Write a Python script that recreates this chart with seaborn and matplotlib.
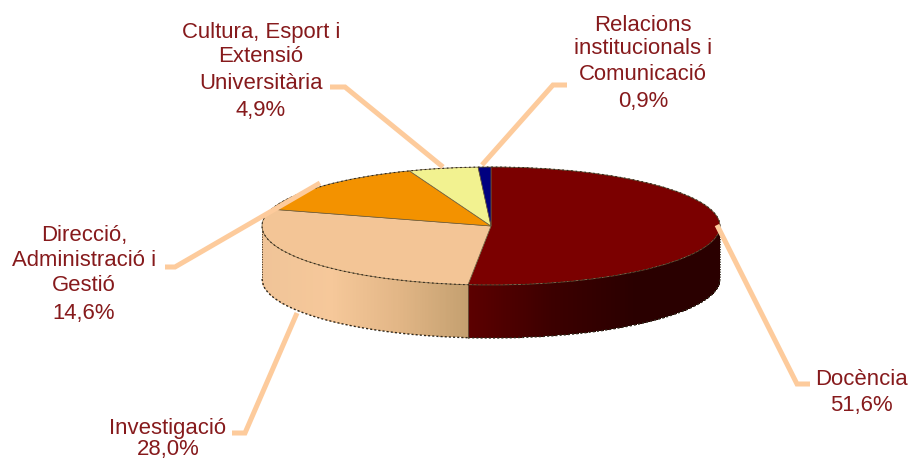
import numpy as np
import matplotlib
matplotlib.use('Agg')
import matplotlib.pyplot as plt
import seaborn as sns

# Data
categories = ['Docència', 'Investigació', 'Direcció,\nAdministració i\nGestió',
              'Cultura, Esport i\nExtensió\nUniversitària',
              'Relacions\ninstitucionals i\nComunicació']
values = [51.6, 28.0, 14.6, 4.9, 0.9]
pct_labels = ['51,6%', '28,0%', '14,6%', '4,9%', '0,9%']
colors = ['#7b0000', '#f3c596', '#f39200', '#f2f290', '#000080']

W, H = 913, 461
cx, cy, rx, ry, depth = 491, 226, 229, 59, 53

sns.set_theme(style='white')
plt.rcParams['font.family'] = ['Liberation Sans', 'DejaVu Sans']

fig = plt.figure(figsize=(W / 100, H / 100), dpi=100)

# Pie axes: unit circle squashed into an ellipse
ax = fig.add_axes([0, 0, 1, 1])
ax.pie(values, colors=colors, startangle=90, counterclock=False, radius=1,
       wedgeprops={'edgecolor': '#6a5a3a', 'linewidth': 0.5})
ax.set_aspect('auto')
ax.set_xlim(-cx / rx, (W - cx) / rx)
ax.set_ylim((cy - H) / ry, cy / ry)
for w in ax.patches:
    w.set_zorder(3)

# Side wall, shaded left to right, split where Docència ends
d = depth / ry
split = np.sin(np.deg2rad(values[0] * 3.6))
x_in = np.linspace(-1, split, 150)
x_do = np.linspace(split, 1, 250)
cmap_in = sns.blend_palette(['#f0c498', '#f6c89a', '#e2b686', '#c4a070'], as_cmap=True)
cmap_do = sns.blend_palette(['#5c0000', '#3c0000', '#2a0000', '#2a0000'], as_cmap=True)
for xs, cm in [(x_in, cmap_in), (x_do, cmap_do)]:
    top = -np.sqrt(np.clip(1 - xs ** 2, 0, 1))
    X = np.vstack([xs, xs])
    Y = np.vstack([top, top - d])
    C = np.linspace(0, 1, len(xs) - 1)[None, :]
    ax.pcolormesh(X, Y, C, cmap=cm, shading='flat', zorder=1, rasterized=True)
    ax.plot(xs, top - d, color='#30281c', lw=1.0, ls=(0, (1.5, 1.5)), zorder=2)

# outer dotted edge like the reference
t = np.linspace(0, 2 * np.pi, 400)
ax.plot(np.cos(t), np.sin(t), color='#30281c', lw=0.8, ls=(0, (1.5, 2.5)), zorder=4)
ax.plot([-1, -1], [0, -d], color='#30281c', lw=0.6, ls=(0, (1.5, 1.5)), zorder=2)
ax.plot([1, 1], [0, -d], color='#30281c', lw=0.6, ls=(0, (1.5, 1.5)), zorder=2)
ax.plot([split, split], [-np.sqrt(1 - split ** 2), -np.sqrt(1 - split ** 2) - d],
        color='#6a5a40', lw=0.6, zorder=2)

# Overlay in pixel coordinates for leader lines and labels
ov = fig.add_axes([0, 0, 1, 1])
ov.set_xlim(0, W)
ov.set_ylim(H, 0)
ov.axis('off')
ov.patch.set_alpha(0)

leaders = [
    ([717, 797, 810], [225, 384, 384]),
    ([297, 245, 232], [313, 433, 433]),
    ([320, 175, 165], [183, 267, 267]),
    ([443, 345, 330], [167, 87, 87]),
    ([482, 553, 567], [165, 85, 85]),
]
for xs, ys in leaders:
    ov.plot(xs, ys, color='#fdcb9c', lw=3.6, solid_joinstyle='miter', solid_capstyle='butt')

text_color = '#861a1c'
label_pos = [
    (861, [385, 411]),
    (168, [434, 455]),
    (84, [241, 266, 291, 319]),
    (261, [38, 62, 89, 116]),
    (643, [31, 54, 80, 107]),
]
for cat, pct, (x, ys) in zip(categories, pct_labels, label_pos):
    for line, y in zip(cat.split('\n') + [pct], ys):
        ov.text(x, y, line, color=text_color, fontsize=15.9, ha='center', va='baseline')

fig.savefig('out.png', dpi=100)
